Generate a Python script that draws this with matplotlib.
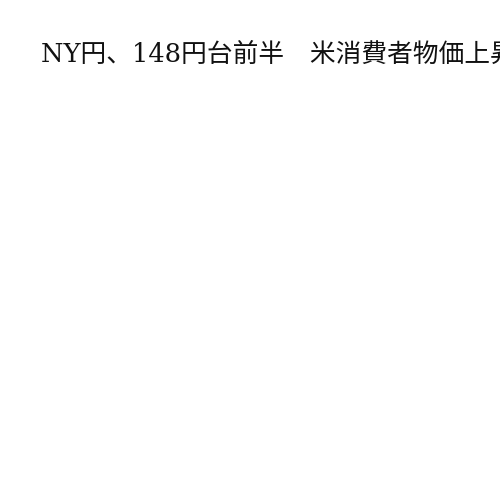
import matplotlib
matplotlib.use("Agg")
import matplotlib.pyplot as plt

# Latin letters and digits in a serif face, Japanese from Noto CJK
plt.rcParams['font.family'] = ['DejaVu Serif', 'Noto Sans CJK JP']

# the headline runs off the right edge, as in the original
headline = "NY円、148円台前半　米消費者物価上昇率"

fig = plt.figure(figsize=(5, 5), dpi=100)
fig.patch.set_facecolor("white")

fig.text(41 / 500, 1 - 62 / 500, headline, fontsize=18.5, color="#111111",
         ha="left", va="baseline")

fig.savefig("out.png", dpi=100, facecolor="white")
